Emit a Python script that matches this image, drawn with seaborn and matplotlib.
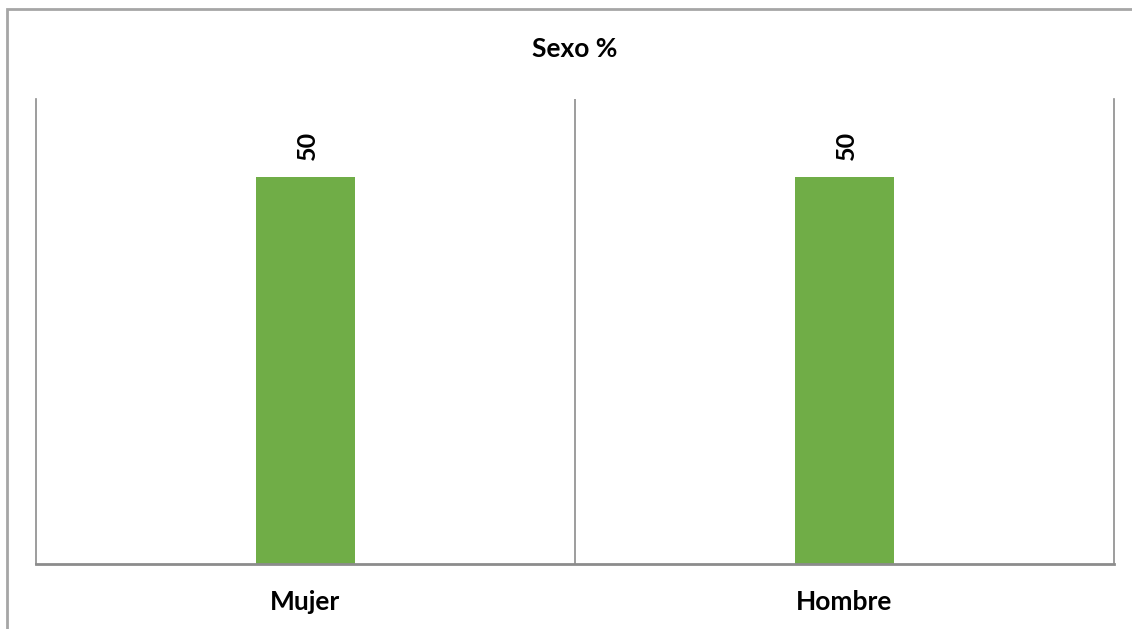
import matplotlib
matplotlib.use("Agg")
import matplotlib.pyplot as plt
import seaborn as sns
import pandas as pd
from matplotlib.patches import Rectangle

categories = ["Mujer", "Hombre"]
values = [50, 50]
title = "Sexo %"

sns.set_theme(style="white")
plt.rcParams["font.family"] = ["Lato", "DejaVu Sans"]

W, H = 1132, 629
fig = plt.figure(figsize=(W / 100, H / 100), dpi=100)
fig.patch.set_facecolor("white")

# outer chart frame (open to the right and bottom)
fig.patches.append(Rectangle((7 / W, -0.1), 1.2, 1 - 9.5 / H + 0.1,
                             transform=fig.transFigure, fill=False,
                             edgecolor="#a6a6a6", linewidth=2, zorder=0))

ax = fig.add_axes([36 / W, (H - 564) / H, (1114 - 36) / W, (564 - 99) / H])
df = pd.DataFrame({"cat": categories, "val": values})
sns.barplot(data=df, x="cat", y="val", ax=ax, color="#70ad47",
            saturation=1, width=0.184, edgecolor="none")

ax.set_ylim(0, 60)
ax.set_xlim(-0.5, len(categories) - 0.5)
ax.set_yticks([])
ax.set_xlabel("")
ax.set_ylabel("")

# category separators
for xb in [i + 0.5 for i in range(len(categories) - 1)]:
    ax.axvline(xb, color="#8c8c8c", linewidth=1.2, zorder=0)

for side in ["left", "right"]:
    ax.spines[side].set_visible(True)
    ax.spines[side].set_color("#8c8c8c")
    ax.spines[side].set_linewidth(1.2)
ax.spines["top"].set_visible(False)
ax.spines["bottom"].set_color("#8c8c8c")
ax.spines["bottom"].set_linewidth(2)

ax.tick_params(axis="x", length=0, pad=19, labelsize=19)
for lbl in ax.get_xticklabels():
    lbl.set_fontweight("bold")
    lbl.set_color("black")

for i, v in enumerate(values):
    ax.annotate(f"{v}", (i, v), xytext=(2, 17), textcoords="offset pixels",
                rotation=90, ha="center", va="bottom", fontsize=18,
                fontweight="bold", color="black")

fig.text(575 / W, 1 - 49 / H, title, ha="center", va="center",
         fontsize=19, fontweight="bold", color="black")

fig.savefig("out.png", dpi=100, facecolor="white")
